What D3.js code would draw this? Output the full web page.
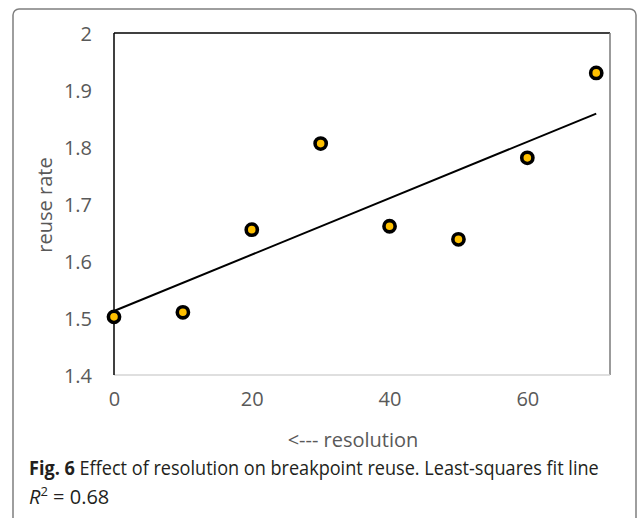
<html>
<script src='https://d3js.org/d3.v7.min.js'></script>
<style>
body { margin:0; background:#ffffff; }
</style>

<body onload='init()'>
<svg width=637 height=518>
</svg>

<script>

//chart values
var resolution = [0, 10, 20, 30, 40, 50, 60, 70];
var reuseRate = [1.502, 1.510, 1.655, 1.806, 1.661, 1.638, 1.781, 1.930];
var xTicks = [0, 20, 40, 60];
var yTicks = [1.4, 1.5, 1.6, 1.7, 1.8, 1.9, 2];

function init() {

var svg = d3.select("svg");
var tickFont = "'Open Sans', sans-serif";
var grey = "#595959";

//scales
var x = d3.scaleLinear().domain([0, 72]).range([114, 610]);
var y = d3.scaleLinear().domain([1.4, 2]).range([375, 33]);

//outer figure frame (bottom runs off the page)
svg.append("rect")
.attr("x", 13)
.attr("y", 9)
.attr("width", 623)
.attr("height", 540)
.attr("rx", 6)
.style("fill", "none")
.style("stroke", "#7f7f7f")
.style("stroke-width", 1.5);

//plot area border
svg.append("line")
.attr("x1", x(0)).attr("x2", x(72)).attr("y1", y(2)).attr("y2", y(2))
.style("stroke", "#000").style("stroke-width", 1.5);
svg.append("line")
.attr("x1", x(72)).attr("x2", x(72)).attr("y1", y(2)).attr("y2", y(1.4))
.style("stroke", "#7a7a7a").style("stroke-width", 1.5);
svg.append("line")
.attr("x1", x(0)).attr("x2", x(72)).attr("y1", y(1.4)).attr("y2", y(1.4))
.style("stroke", "#d4d4d4").style("stroke-width", 1.5);
svg.append("line")
.attr("x1", x(0)).attr("x2", x(0)).attr("y1", y(2)).attr("y2", y(1.4))
.style("stroke", "#000").style("stroke-width", 1.5);

//y axis labels
var yAxis = svg.append("g")
.attr("transform", "translate(" + (x(0) - 22) + ",0)")
.call(d3.axisLeft(y).tickValues(yTicks).tickSize(0).tickPadding(0).tickFormat(d3.format("")));
yAxis.select(".domain").remove();
yAxis.selectAll("text")
.attr("dy", "0.36em")
.style("font-family", tickFont)
.style("font-size", "20px")
.style("fill", grey);

//x axis labels
var xAxis = svg.append("g")
.attr("transform", "translate(0," + (y(1.4) + 17) + ")")
.call(d3.axisBottom(x).tickValues(xTicks).tickSize(0).tickPadding(0));
xAxis.select(".domain").remove();
xAxis.selectAll("text")
.attr("dy", "0.71em")
.style("font-family", tickFont)
.style("font-size", "20px")
.style("fill", grey);

//axis titles
svg.append("text")
.attr("x", 353)
.attr("y", 447)
.attr("text-anchor", "middle")
.style("font-family", tickFont)
.style("font-size", "20px")
.style("fill", grey)
.text("<--- resolution");

svg.append("text")
.attr("transform", "translate(52,205) rotate(-90)")
.attr("text-anchor", "middle")
.style("font-family", tickFont)
.style("font-size", "20px")
.style("fill", grey)
.text("reuse rate");

//least squares fit line
var mx = d3.mean(resolution), my = d3.mean(reuseRate);
var sxy = d3.sum(resolution, function(d, i) { return (d - mx) * (reuseRate[i] - my); });
var sxx = d3.sum(resolution, function(d) { return (d - mx) * (d - mx); });
var slope = sxy / sxx;
var icpt = my - slope * mx;
var ends = [d3.min(resolution), d3.max(resolution)];

svg.append("line")
.attr("x1", x(ends[0]))
.attr("y1", y(icpt + slope * ends[0]))
.attr("x2", x(ends[1]))
.attr("y2", y(icpt + slope * ends[1]))
.style("stroke", "#000")
.style("stroke-width", 2);

//points
svg.selectAll("circle.pt")
.data(resolution)
.enter()
.append("circle")
.attr("class", "pt")
.attr("cx", function(d) { return x(d); })
.attr("cy", function(d, i) { return y(reuseRate[i]); })
.attr("r", 5.6)
.style("fill", "#ffc000")
.style("stroke", "#000")
.style("stroke-width", 3.6);

//caption, squeezed horizontally to the width of the original
var capG = svg.append("g");
var cap = capG.append("text")
.attr("x", 0)
.attr("y", 0)
.style("font-family", tickFont)
.style("font-size", "20px")
.style("fill", "#231f20");
cap.append("tspan").style("font-weight", "bold").text("Fig. 6");
cap.append("tspan").text(" Effect of resolution on breakpoint reuse. Least-squares fit line");
var sx = 570 / cap.node().getComputedTextLength();
capG.attr("transform", "translate(29,475) scale(" + sx + ",1)");

var cap2 = svg.append("text")
.attr("x", 29)
.attr("y", 504)
.style("font-family", tickFont)
.style("font-size", "20px")
.style("fill", "#231f20");
cap2.append("tspan").style("font-style", "italic").text("R");
cap2.append("tspan").attr("dy", -8).style("font-size", "13px").text("2");
cap2.append("tspan").attr("dy", 8).text(" = 0.68");

}
</script>
</body>
</html>
